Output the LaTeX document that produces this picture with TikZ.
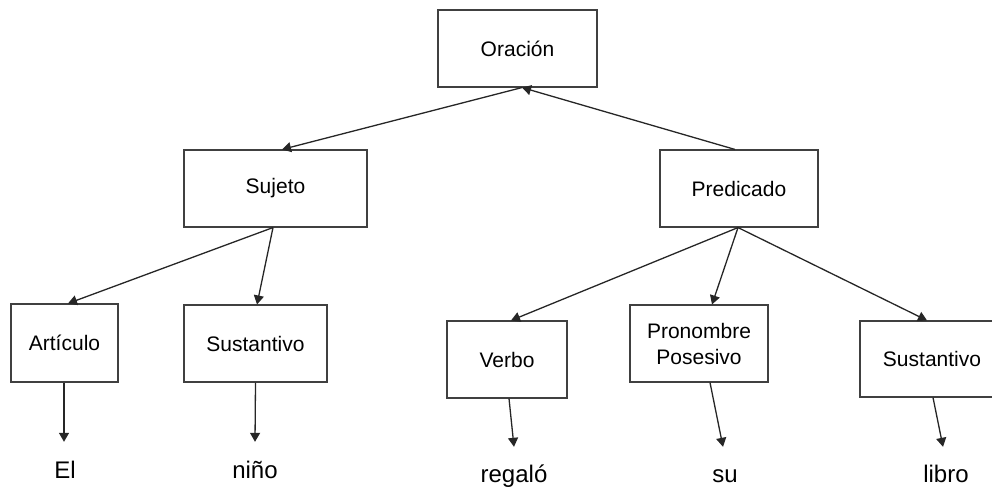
\documentclass[tikz,border=0pt]{standalone}
\usepackage{fontspec}
\setmainfont{Liberation Sans}
\usetikzlibrary{arrows.meta}

\tikzset{
  box/.style={draw=black!75, line width=1.1pt, rectangle, inner sep=0pt,
    align=center, font=\fontsize{21}{26}\selectfont},
  word/.style={inner sep=0pt, anchor=base, text height=18pt, text depth=5pt,
    font=\fontsize{24}{28}\selectfont},
  link/.style={draw=black!85, line width=1.3pt,
    -{Triangle[length=9pt,width=10pt]}},
}

\begin{document}
\begin{tikzpicture}[x=1pt,y=-1pt]
  \useasboundingbox (0,0) rectangle (992,488);

  % sentence tree boxes
  \node[box, minimum width=159pt, minimum height=77pt] (orac) at (517.5,48.5) {Oración};
  \node[box, minimum width=183pt, minimum height=77pt] (suj)  at (275.5,188.5) {Sujeto};
  \node[box, minimum width=158pt, minimum height=77pt] (pred) at (739,188.5) {Predicado};
  \node[box, minimum width=107pt, minimum height=78pt] (art)  at (64.5,343) {Artículo};
  \node[box, minimum width=143pt, minimum height=77pt] (sus1) at (255.5,343.5) {Sustantivo};
  \node[box, minimum width=120pt, minimum height=77pt] (verb) at (507,359.5) {Verbo};
  \node[box, minimum width=138pt, minimum height=77pt] (pron) at (699,343.5) {Pronombre\\Posesivo};
  \node[box, minimum width=144pt, minimum height=76pt] (sus2) at (932,359) {Sustantivo};

  % words of the sentence
  \node[word] (w1) at (65,478)  {El};
  \node[word] (w2) at (255,478) {niño};
  \node[word] (w3) at (514,482) {regaló};
  \node[word] (w4) at (725,482) {su};
  \node[word] (w5) at (946,482) {libro};

  % upper links
  \draw[link] ([xshift=-4pt]pred.north) -- ([xshift=4.5pt]orac.south);
  \draw[link] ([xshift=4.5pt]orac.south) -- ([xshift=6.5pt]suj.north);

  % subject branch
  \draw[link] ([xshift=-2.5pt]suj.south) -- ([xshift=3.5pt]art.north);
  \draw[link] ([xshift=-2.5pt]suj.south) -- ([xshift=1.5pt]sus1.north);

  % predicate branch
  \draw[link] ([xshift=-1pt]pred.south) -- ([xshift=4pt]verb.north);
  \draw[link] ([xshift=-1pt]pred.south) -- ([xshift=13pt]pron.north);
  \draw[link] ([xshift=-1pt]pred.south) -- ([xshift=-5pt]sus2.north);

  % from categories down to words
  \draw[link] ([xshift=-0.5pt]art.south) -- ([xshift=-1pt,yshift=18pt]w1.north);
  \draw[link] (sus1.south) -- ([yshift=18pt]w2.north);
  \draw[link] ([xshift=2pt]verb.south) -- ([yshift=17pt]w3.north);
  \draw[link] ([xshift=11pt]pron.south) -- ([xshift=-2pt,yshift=17pt]w4.north);
  \draw[link] ([xshift=1pt]sus2.south) -- ([xshift=-3pt,yshift=17pt]w5.north);
\end{tikzpicture}
\end{document}
